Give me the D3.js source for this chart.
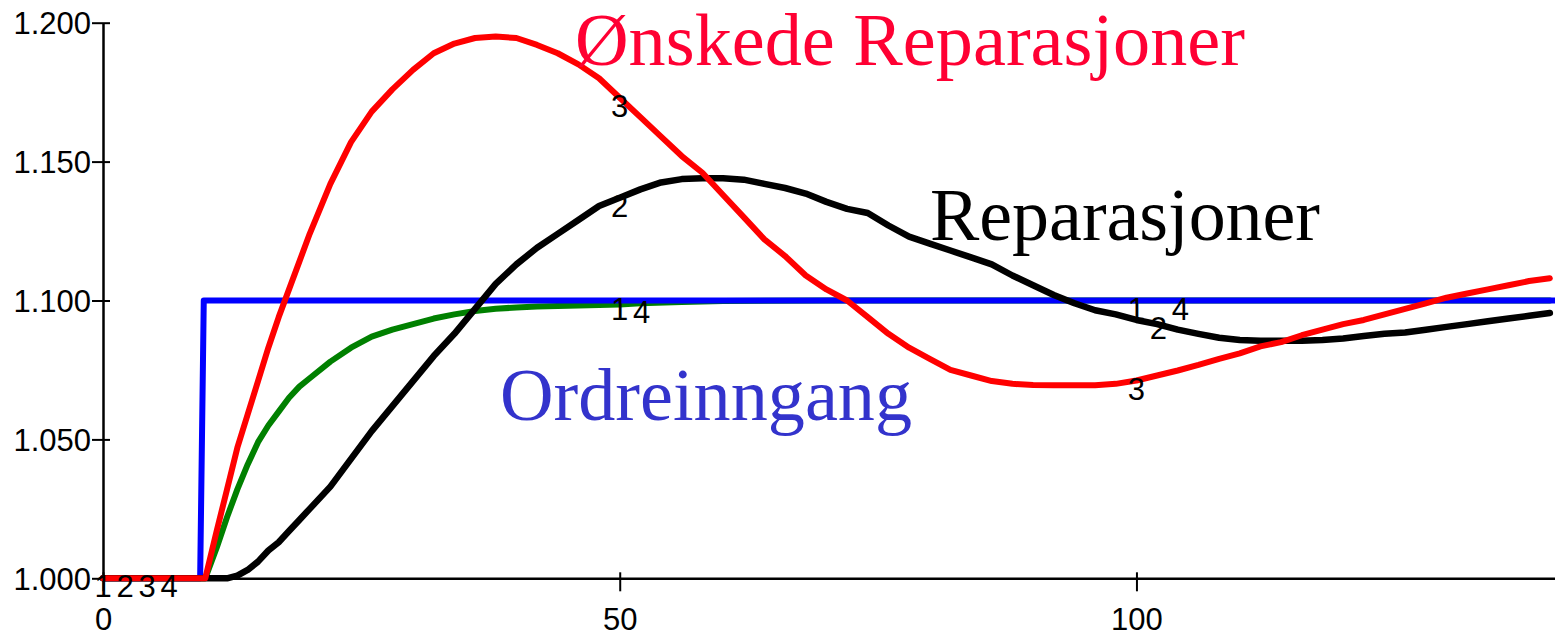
<!DOCTYPE html>
<html><head><meta charset="utf-8">
<script src="https://cdn.jsdelivr.net/npm/d3@7"></script>
<style>
html,body{margin:0;padding:0;background:#fff;}
svg{display:block;}
</style></head>
<body>
<svg id="c" width="1555" height="639"></svg>
<script>
// ---- data ----
const xTicks = [0, 50, 100];
const yTicks = [1.0, 1.05, 1.1, 1.15, 1.2];
const yTickLabels = ["1.000", "1.050", "1.100", "1.150", "1.200"];
const labelTimes = [0, 50, 100];

// 1: Ordreinngang (blue)
const ordreT = [0, 9.4, 9.75, 140.5];
const ordreV = [1.0, 1.0, 1.1, 1.1];

// 2: Reparasjoner (black)
const repT = [0, 12, 13, 14, 15, 16, 17, 18, 19, 20, 22, 24, 26, 28, 30, 32, 34, 36, 38, 40, 42, 44, 46, 48, 50,
  52, 54, 56, 58, 60, 62, 64, 66, 68, 70, 72, 74, 76, 78, 80, 82, 84, 86, 88, 90, 92, 94, 96, 98, 100,
  102, 104, 106, 108, 110, 112, 114, 116, 118, 120, 122, 124, 126, 128, 130, 132, 134, 136, 138, 140];
const repV = [1.0, 1.0, 1.001, 1.003, 1.006, 1.010, 1.013, 1.017, 1.021, 1.025, 1.033, 1.043, 1.053, 1.062, 1.071, 1.080, 1.088, 1.097, 1.106, 1.113,
  1.119, 1.124, 1.129, 1.134, 1.137, 1.140, 1.1425, 1.1437, 1.144, 1.144, 1.1435, 1.142, 1.1405, 1.1385, 1.1355, 1.133, 1.1315, 1.127, 1.123, 1.1205,
  1.118, 1.1155, 1.113, 1.109, 1.1055, 1.102, 1.099, 1.0965, 1.095, 1.093, 1.0915, 1.0895, 1.088, 1.0866, 1.0858, 1.0855, 1.0855, 1.0855, 1.0858, 1.0863,
  1.0872, 1.088, 1.0885, 1.0895, 1.0905, 1.0915, 1.0925, 1.0935, 1.0945, 1.0955];

// 3: Ønskede Reparasjoner (red)
const onskT = [0, 9.9, 11, 12, 13, 14, 15, 16, 17, 18, 19, 20, 22, 24, 26, 28, 30, 32, 34, 36, 38, 40, 42, 44, 46, 48, 50,
  52, 54, 56, 58, 60, 62, 64, 66, 68, 70, 72, 74, 76, 78, 80, 82, 84, 86, 88, 90, 92, 94, 96, 98, 100,
  102, 104, 106, 108, 110, 112, 114, 116, 118, 120, 122, 124, 126, 128, 130, 132, 134, 136, 138, 140];
const onskV = [1.0, 1.0, 1.017, 1.032, 1.047, 1.059, 1.071, 1.083, 1.094, 1.104, 1.114, 1.124, 1.142, 1.157, 1.168, 1.176, 1.183, 1.189, 1.1925, 1.1945, 1.195,
  1.1945, 1.192, 1.189, 1.185, 1.180, 1.173, 1.166, 1.159, 1.152, 1.146, 1.138, 1.130, 1.122, 1.116, 1.109, 1.104, 1.100, 1.094, 1.088, 1.083,
  1.079, 1.075, 1.073, 1.071, 1.070, 1.0696, 1.0695, 1.0695, 1.0695, 1.0700, 1.0712, 1.0730, 1.0748, 1.0768, 1.079, 1.081, 1.0835, 1.085, 1.0875, 1.0895,
  1.0915, 1.093, 1.095, 1.097, 1.099, 1.101, 1.1025, 1.104, 1.1055, 1.107, 1.108];

// 4: green
const greenT = [0, 9.9, 11, 12, 13, 14, 15, 16, 17, 18, 19, 20, 22, 24, 26, 28, 30, 32, 34, 36, 38, 40, 42, 44, 46, 48, 50, 52, 56, 60, 70, 140];
const greenV = [1.0, 1.0, 1.011, 1.022, 1.032, 1.041, 1.049, 1.055, 1.060, 1.065, 1.069, 1.072, 1.078, 1.083, 1.087, 1.0895, 1.0915, 1.0935, 1.095, 1.0962, 1.097,
  1.0975, 1.0978, 1.098, 1.0982, 1.0984, 1.0986, 1.099, 1.0995, 1.0998, 1.1, 1.1];

const seriesNames = ["Ordreinngang", "Reparasjoner", "Ønskede Reparasjoner", ""];
const seriesColors = ["#0000ff", "#000000", "#ff0000", "#008000"];
const textColors = ["#3333cc", "#000000", "#ff0033"];

// ---- build ----
const series = [
  {id: 1, t: ordreT, v: ordreV},
  {id: 2, t: repT, v: repV},
  {id: 3, t: onskT, v: onskV},
  {id: 4, t: greenT, v: greenV}
].map((s, i) => ({...s, color: seriesColors[i], pts: s.t.map((t, j) => [t, s.v[j]])}));

const svg = d3.select("#c");
const x = d3.scaleLinear().domain([0, 140.5]).range([103, 1555]);
const y = d3.scaleLinear().domain([1.0, 1.2]).range([578.3, 22.7]);
const sans = "Liberation Sans, Arial, sans-serif";

// axes
const gy = svg.append("g").attr("transform", `translate(${x(0)},0)`)
  .call(d3.axisLeft(y).tickValues(yTicks).tickFormat((d, i) => yTickLabels[i]).tickSize(11).tickPadding(1).tickSizeOuter(0));
gy.select(".domain").attr("stroke", "#000").attr("stroke-width", 2.5);
gy.selectAll(".tick line").attr("x1", 7).attr("stroke", "#000").attr("stroke-width", 2);
gy.selectAll(".tick text").attr("font-family", sans).attr("font-size", 31).attr("fill", "#000").attr("dy", "0.35em");

const gx = svg.append("g").attr("transform", `translate(0,${y(1.0)})`)
  .call(d3.axisBottom(x).tickValues(xTicks).tickFormat(d3.format("d")).tickSize(13).tickSizeOuter(0));
gx.select(".domain").attr("stroke", "#000").attr("stroke-width", 2.5);
gx.selectAll(".tick line").attr("y1", -6).attr("stroke", "#000").attr("stroke-width", 2);
gx.selectAll(".tick text").attr("font-family", sans).attr("font-size", 31).attr("fill", "#000").attr("dy", null).attr("y", 52);

// lines
const line = d3.line().x(d => x(d[0])).y(d => y(d[1]));
const drawOrder = [3, 0, 1, 2];
drawOrder.forEach(i => {
  const s = series[i];
  svg.append("path").datum(s.pts).attr("d", line).attr("fill", "none")
    .attr("stroke", s.color).attr("stroke-width", i === 1 ? 6.5 : 6)
    .attr("stroke-linejoin", "round").attr("stroke-linecap", "round");
});

// numeric labels
function valueAt(s, t) {
  const i = d3.bisectRight(s.t, t);
  if (i <= 0) return s.v[0];
  if (i >= s.t.length) return s.v[s.v.length - 1];
  const t0 = s.t[i - 1], t1 = s.t[i];
  const f = (t - t0) / (t1 - t0);
  return s.v[i - 1] + f * (s.v[i] - s.v[i - 1]);
}
labelTimes.forEach(t => {
  const placed = [];
  series.forEach(s => {
    const px = x(t), py = y(valueAt(s, t));
    let dx = 0;
    while (placed.some(p => Math.abs(p.x - (px + dx)) < 20 && Math.abs(p.y - py) < 22)) dx += 22;
    placed.push({x: px + dx, y: py});
    svg.append("text").attr("x", px + dx).attr("y", py + 19).attr("text-anchor", "middle")
      .attr("font-family", sans).attr("font-size", 31).attr("fill", "#000")
      .text(s.id);
  });
});

// series name labels
const nameLabels = [
  {i: 2, x: 575, y: 65, w: 670},
  {i: 1, x: 930, y: 240, w: 390},
  {i: 0, x: 500, y: 420, w: 412}
];
nameLabels.forEach(l => {
  svg.append("text").attr("x", l.x).attr("y", l.y)
    .attr("font-family", "Liberation Serif, Times New Roman, serif").attr("font-size", 74)
    .attr("fill", textColors[l.i]).attr("textLength", l.w).attr("lengthAdjust", "spacingAndGlyphs")
    .text(seriesNames[l.i]);
});
</script>
</body></html>
